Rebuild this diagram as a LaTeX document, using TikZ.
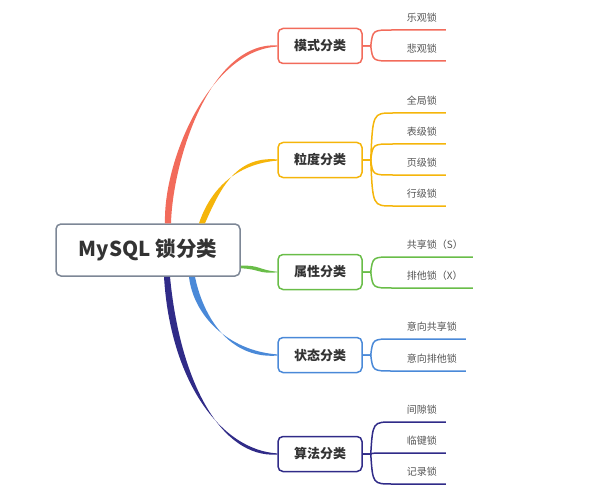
\documentclass[tikz,border=0pt]{standalone}
\usepackage{fontspec}
\setmainfont{Noto Sans CJK SC}
\usetikzlibrary{calc}
\definecolor{cred}{HTML}{F26B5B}
\definecolor{cyel}{HTML}{F5B50A}
\definecolor{cgrn}{HTML}{69BD48}
\definecolor{cblu}{HTML}{4A89D8}
\definecolor{cind}{HTML}{302B88}
\definecolor{cgry}{HTML}{7D8796}
\definecolor{txt}{HTML}{333333}
\definecolor{leaftxt}{HTML}{555555}
% #1 colour, #2 start, #3 control 1, #4 control 2, #5 end, #6 start half-width vector, #7 end half-width vector
\newcommand\mybranch[7]{%
  \fill[#1] ($(#2)-(#6)$) .. controls ($(#3)-1.6*(#6)$) and ($(#4)-7*(#7)$) .. ($(#5)-(#7)$)
     -- ($(#5)+(#7)$) .. controls ($(#4)+7*(#7)$) and ($(#3)+1.6*(#6)$) .. ($(#2)+(#6)$) -- cycle;}
% #1 box name, #2 colour, #3 end offset, #4 list dy/text
\newcommand\myleaves[4]{%
  \foreach \dy/\t [count=\i] in {#4} {
    \draw[line width=1.5pt, draw=#2] (#1.east) -- ++(8,0) coordinate (#1j\i)
      .. controls ($(#1j\i)+(2,\dy)$) .. ($(#1j\i)+(22,\dy)$)
      -- ($(#1.east)+(#3,\dy)$) coordinate (#1e\i);
    \node[leaf] (#1t\i) at ($(#1.east)+(44,\dy-12)$) {\t};
  }}
\begin{document}
\begin{tikzpicture}[x=1pt,y=-1pt,
  rootbox/.style={draw=cgry, line width=1.5pt, rounded corners=5pt, fill=white,
    minimum width=184pt, minimum height=52pt, inner sep=0pt, text=txt,
    font=\fontsize{20.5}{24}\selectfont\bfseries},
  catbox/.style={draw=#1, line width=1.5pt, rounded corners=5pt, fill=white,
    minimum width=84pt, minimum height=35pt, inner sep=0pt, text=txt,
    font=\fontsize{13}{15}\selectfont\bfseries},
  leaf/.style={font=\fontsize{10}{12}\selectfont, text=leaftxt, anchor=west, inner sep=0pt}]
\useasboundingbox (0,0) rectangle (597,500);

\node[rootbox] (root) at (148,250) {MySQL 锁分类};
\node[catbox=cred] (m) at (320,46) {模式分类};
\node[catbox=cyel] (g) at (320,160) {粒度分类};
\node[catbox=cgrn] (a) at (320,272) {属性分类};
\node[catbox=cblu] (s) at (320,355) {状态分类};
\node[catbox=cind] (l) at (320,454) {算法分类};

\coordinate (sm) at ($(root.north)+(20,0)$);
\coordinate (sg) at ($(root.north)+(54,0)$);
\coordinate (sa) at ($(root.east)+(0,17)$);
\coordinate (ss) at ($(root.south)+(44,0)$);
\coordinate (sl) at ($(root.south)+(19,0)$);

\mybranch{cred}{sm}{168,160}{210,46}{m.west}{3,0}{0,-0.6}
\mybranch{cyel}{sg}{215,190}{235,160}{g.west}{3,0}{0,-0.6}
\mybranch{cgrn}{sa}{260,267}{258,272}{a.west}{0,-1.3}{0,-0.3}
\mybranch{cblu}{ss}{198,315}{228,355}{s.west}{3,0}{0,0.6}
\mybranch{cind}{sl}{175,380}{220,454}{l.west}{3,0}{0,0.6}

\myleaves{m}{cred}{83}{-16/乐观锁, 15/悲观锁}
\myleaves{g}{cyel}{83}{-47/全局锁, -16/表级锁, 15/页级锁, 46/行级锁}
\myleaves{a}{cgrn}{110}{-15/共享锁（S）, 16/排他锁（X）}
\myleaves{s}{cblu}{103}{-16/意向共享锁, 16/意向排他锁}
\myleaves{l}{cind}{83}{-32/间隙锁, -1/临键锁, 30/记录锁}
\end{tikzpicture}
\end{document}
